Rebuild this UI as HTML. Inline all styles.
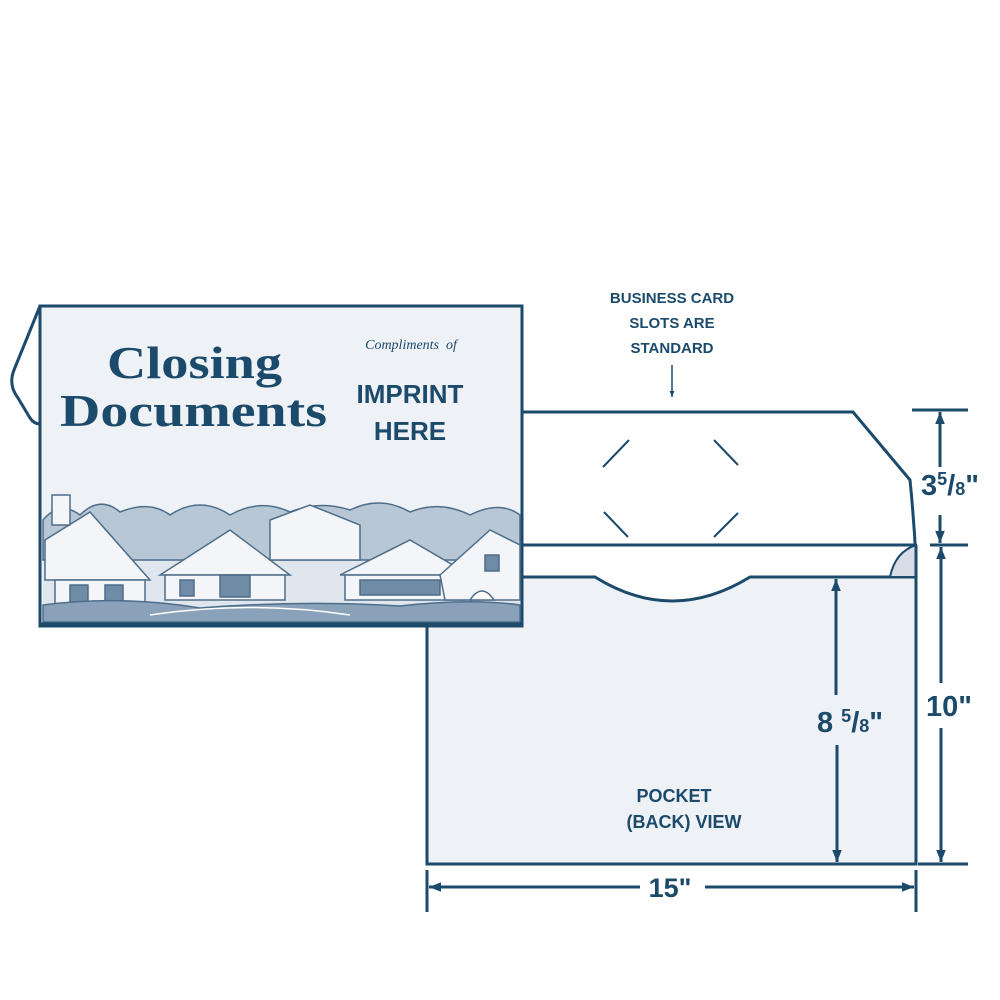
<!DOCTYPE html>
<html><head><style>
html,body{margin:0;padding:0;background:#fff;}
svg{display:block;}
</style></head><body>
<svg width="1000" height="1000" viewBox="0 0 1000 1000" xmlns="http://www.w3.org/2000/svg">
<defs>
<marker id="ar" viewBox="0 0 10 10" refX="10" refY="5" markerWidth="4" markerHeight="4" orient="auto-start-reverse">
<path d="M0,1 L10,5 L0,9 z" fill="#1b4a6b"/></marker>
</defs>
<g stroke="#1b4a6b" fill="none">
<path d="M522,412 L853,412 L910,480 Q914,520 916,560" stroke-width="3" fill="#fff"/>
<line x1="522" y1="545" x2="916" y2="545" stroke-width="3"/>
<g stroke-width="2">
<line x1="603" y1="467" x2="629" y2="440"/><line x1="714" y1="440" x2="738" y2="465"/>
<line x1="604" y1="512" x2="628" y2="537"/><line x1="714" y1="537" x2="738" y2="513"/>
</g>
<path d="M427,577 L595,577 Q672,625 750,577 L916,577 L916,864 L427,864 Z" fill="#eef1f6" stroke-width="3"/>
<path d="M890,577 Q895,552 916,545 L916,577 Z" fill="#d6dde7" stroke-width="2"/>
<line x1="522" y1="545" x2="522" y2="577" stroke-width="3"/>
<line x1="916" y1="545" x2="916" y2="864" stroke-width="3"/>
<path d="M40,306 L14,370 Q8,385 18,398 L30,418 Q34,424 40,424" stroke-width="3"/>
<rect x="40" y="306" width="482" height="320" fill="#eef1f6" stroke-width="3"/>
</g>
<g fill="#6f8ba5" stroke="#4e6d8a" stroke-width="1.5">
<rect x="43" y="545" width="477" height="75" fill="#dfe6ee" stroke="none"/>
<path d="M43,520 Q60,500 80,515 Q100,495 120,512 Q150,500 170,515 Q200,495 230,515 Q260,498 290,512 Q320,500 350,510 Q380,495 410,512 Q440,500 470,515 Q500,500 520,515 L520,560 L43,560 Z" fill="#b8c7d6"/>
<path d="M45,540 L90,512 L150,580 L45,580 Z" fill="#f3f5f8"/>
<rect x="52" y="495" width="18" height="30" fill="#f3f5f8"/>
<rect x="55" y="580" width="90" height="30" fill="#f3f5f8"/>
<rect x="70" y="585" width="18" height="22"/><rect x="105" y="585" width="18" height="22"/>
<path d="M160,575 L230,530 L290,575 Z" fill="#f3f5f8"/>
<rect x="165" y="575" width="120" height="25" fill="#f3f5f8"/>
<rect x="180" y="580" width="14" height="16"/><rect x="220" y="575" width="30" height="22"/>
<path d="M270,520 L310,505 L360,525 L360,560 L270,560 Z" fill="#f3f5f8"/>
<path d="M340,575 L410,540 L470,575 Z" fill="#f3f5f8"/>
<rect x="345" y="575" width="120" height="25" fill="#f3f5f8"/>
<rect x="360" y="580" width="80" height="15"/>
<path d="M440,575 L490,530 L520,545 L520,600 L445,600 Z" fill="#f3f5f8"/>
<rect x="485" y="555" width="14" height="16"/>
<path d="M470,600 Q482,582 494,600 Z" fill="#fff"/>
<path d="M43,605 Q120,595 200,608 Q300,600 400,606 Q470,598 520,605 L520,622 L43,622 Z" fill="#8aa2b9"/>
<path d="M150,615 Q250,600 350,615" stroke="#fff" fill="none"/>
</g>
<line x1="40" y1="624" x2="522" y2="624" stroke="#1b4a6b" stroke-width="3"/>
<g fill="#1b4a6b" font-family="Liberation Serif, serif" font-weight="bold">
<text x="107" y="378" font-size="46" textLength="175" lengthAdjust="spacingAndGlyphs">Closing</text>
<text x="60" y="426" font-size="46" textLength="267" lengthAdjust="spacingAndGlyphs">Documents</text>
</g>
<text x="411" y="349" font-family="Liberation Serif, serif" font-style="italic" font-size="14" fill="#1b4a6b" text-anchor="middle">Compliments&#160; of</text>
<g fill="#1b4a6b" font-family="Liberation Sans, sans-serif" font-weight="bold" text-anchor="middle">
<text x="410" y="403" font-size="26">IMPRINT</text>
<text x="410" y="440" font-size="26">HERE</text>
<text x="672" y="303" font-size="15">BUSINESS CARD</text>
<text x="672" y="328" font-size="15">SLOTS ARE</text>
<text x="672" y="353" font-size="15">STANDARD</text>
<text x="674" y="802" font-size="18">POCKET</text>
<text x="684" y="828" font-size="18">(BACK) VIEW</text>
<text x="670" y="897" font-size="27">15"</text>
<text x="949" y="716" font-size="29">10"</text>
<text x="850" y="732" font-size="29">8 <tspan font-size="18" dy="-10">5</tspan><tspan dy="10">/</tspan><tspan font-size="18">8</tspan>"</text>
<text x="950" y="495" font-size="29">3<tspan font-size="18" dy="-10">5</tspan><tspan dy="10">/</tspan><tspan font-size="18">8</tspan>"</text>
</g>
<g stroke="#1b4a6b" stroke-width="3" fill="none">
<line x1="672" y1="365" x2="672" y2="397" stroke-width="1.5" marker-end="url(#ar)"/>
<line x1="912" y1="410" x2="968" y2="410"/>
<line x1="930" y1="545" x2="968" y2="545"/>
<line x1="918" y1="864" x2="968" y2="864"/>
<line x1="940" y1="467" x2="940" y2="412" marker-end="url(#ar)"/>
<line x1="940" y1="515" x2="940" y2="543" marker-end="url(#ar)"/>
<line x1="941" y1="683" x2="941" y2="547" marker-end="url(#ar)"/>
<line x1="941" y1="728" x2="941" y2="862" marker-end="url(#ar)"/>
<line x1="836" y1="695" x2="836" y2="579" marker-end="url(#ar)"/>
<line x1="837" y1="745" x2="837" y2="862" marker-end="url(#ar)"/>
<line x1="427" y1="870" x2="427" y2="912"/>
<line x1="916" y1="870" x2="916" y2="912"/>
<line x1="640" y1="887" x2="429" y2="887" marker-end="url(#ar)"/>
<line x1="705" y1="887" x2="914" y2="887" marker-end="url(#ar)"/>
</g>
</svg>
</body></html>
